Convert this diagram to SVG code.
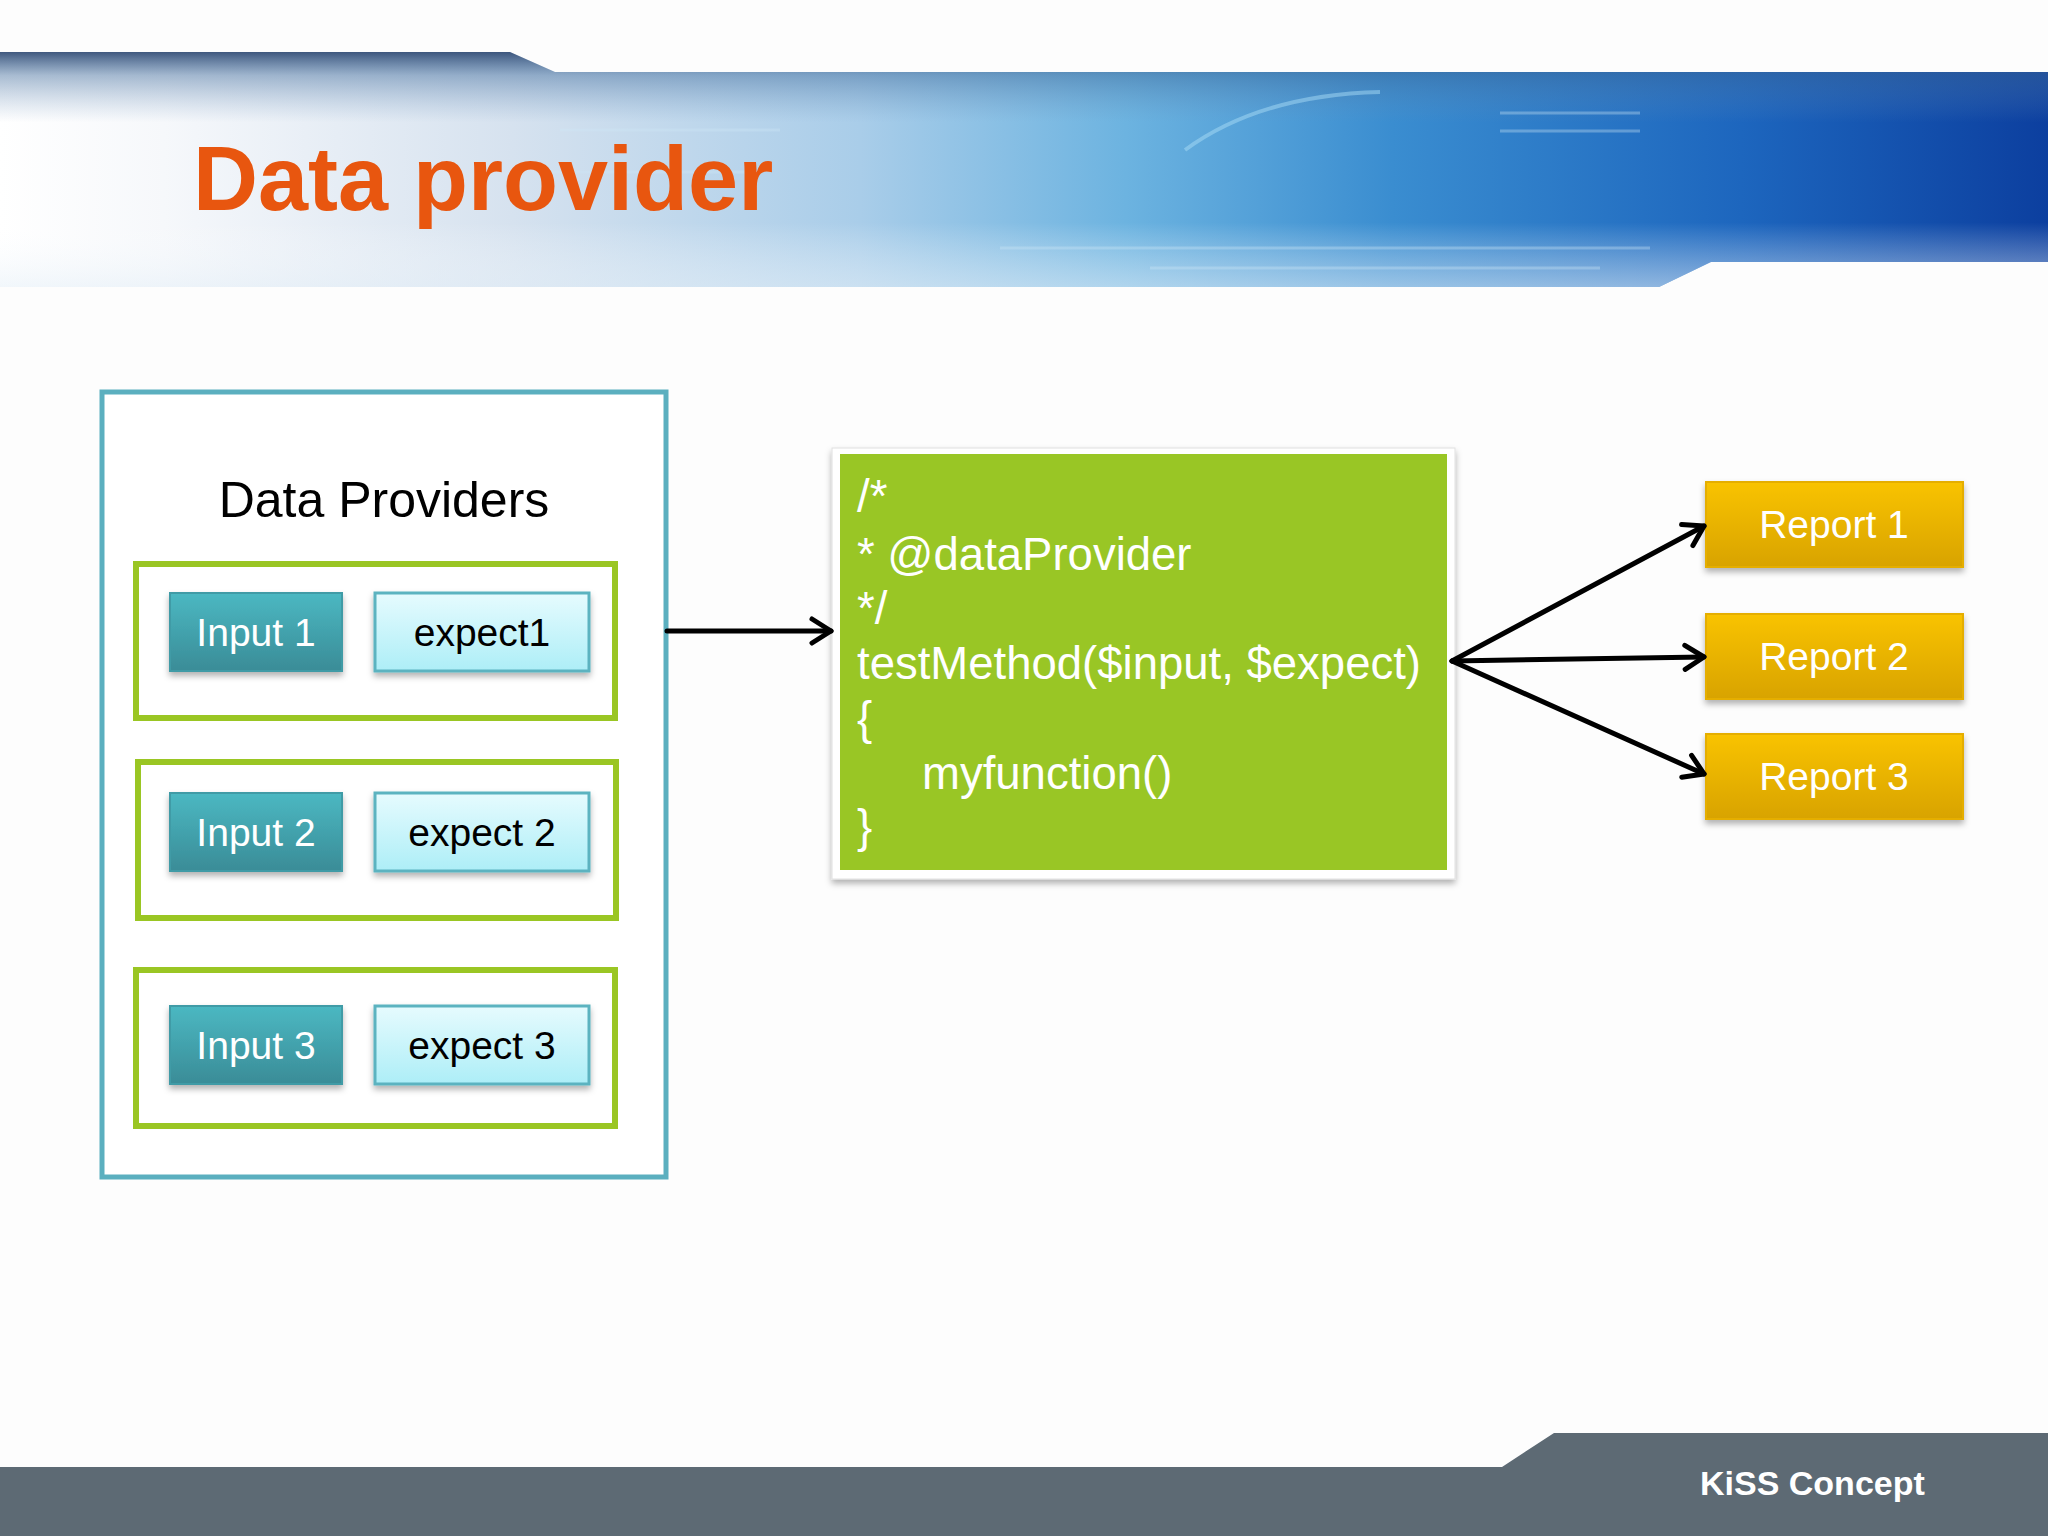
<svg xmlns="http://www.w3.org/2000/svg" width="2048" height="1536" viewBox="0 0 2048 1536">
<defs>
<style>
.t{font-family:"Liberation Sans",Arial,sans-serif}
.in{fill:url(#gIn);stroke:#3F9BA6;stroke-width:2}
.ex{fill:url(#gEx);stroke:#5BB3C0;stroke-width:3}
.grp{fill:#FFFFFF;stroke:#9AC623;stroke-width:6}
.rep{fill:url(#gRep);stroke:#E5AE00;stroke-width:2}
.lblW{font-family:"Liberation Sans",Arial,sans-serif;font-size:39px;fill:#FFFFFF;text-anchor:middle}
.lblB{font-family:"Liberation Sans",Arial,sans-serif;font-size:39px;fill:#000000;text-anchor:middle}
.code{font-family:"Liberation Sans",Arial,sans-serif;font-size:45.5px;fill:#FFFFFF}
.con{fill:none;stroke:#000;stroke-width:5;stroke-linecap:round}
</style>
<linearGradient id="gBand" x1="0" y1="0" x2="1" y2="0">
<stop offset="0" stop-color="#FFFFFF"/>
<stop offset="0.08" stop-color="#F6F8FB"/>
<stop offset="0.25" stop-color="#D6E2EF"/>
<stop offset="0.42" stop-color="#A9CDE9"/>
<stop offset="0.55" stop-color="#6CB3E0"/>
<stop offset="0.68" stop-color="#3A8DD0"/>
<stop offset="0.85" stop-color="#1D66BE"/>
<stop offset="1" stop-color="#0C3F9F"/>
</linearGradient>
<linearGradient id="gTop" x1="0" y1="52" x2="0" y2="287" gradientUnits="userSpaceOnUse">
<stop offset="0" stop-color="#2B4670" stop-opacity="0.9"/>
<stop offset="0.1" stop-color="#3F6A9A" stop-opacity="0.45"/>
<stop offset="0.3" stop-color="#6C93BD" stop-opacity="0"/>
<stop offset="1" stop-color="#FFFFFF" stop-opacity="0"/>
</linearGradient>
<linearGradient id="gBot" x1="0" y1="72" x2="0" y2="287" gradientUnits="userSpaceOnUse">
<stop offset="0.7" stop-color="#FFFFFF" stop-opacity="0"/>
<stop offset="1" stop-color="#E6F0F8" stop-opacity="0.55"/>
</linearGradient>
<linearGradient id="gIn" x1="0" y1="0" x2="0" y2="1">
<stop offset="0" stop-color="#4BB8C2"/>
<stop offset="1" stop-color="#3A8C97"/>
</linearGradient>
<linearGradient id="gEx" x1="0" y1="0" x2="0" y2="1">
<stop offset="0" stop-color="#E6FBFE"/>
<stop offset="1" stop-color="#ADEEF7"/>
</linearGradient>
<linearGradient id="gRep" x1="0" y1="0" x2="0" y2="1">
<stop offset="0" stop-color="#F9C300"/>
<stop offset="1" stop-color="#D8A300"/>
</linearGradient>
<filter id="sh" x="-10%" y="-10%" width="120%" height="130%">
<feDropShadow dx="0" dy="4" stdDeviation="3" flood-color="#000" flood-opacity="0.3"/>
</filter>
<marker id="arr" viewBox="0 0 26 30" refX="23" refY="15" markerWidth="26" markerHeight="30" orient="auto" markerUnits="userSpaceOnUse" overflow="visible">
<path d="M4,3 L23,15 L4,27" fill="none" stroke="#000" stroke-width="5" stroke-linecap="round" stroke-linejoin="round"/>
</marker>
</defs>

<rect width="2048" height="1536" fill="#FDFDFD"/>

<g id="header">
<path d="M0,52 L510,52 L555,72 L2048,72 L2048,262 L1711,262 L1659,287 L0,287 Z" fill="url(#gBand)"/>
<path d="M0,52 L510,52 L555,72 L2048,72 L2048,262 L1711,262 L1659,287 L0,287 Z" fill="url(#gTop)"/>
<path d="M0,52 L510,52 L555,72 L2048,72 L2048,262 L1711,262 L1659,287 L0,287 Z" fill="url(#gBot)"/>
<path d="M1185,150 Q1260,95 1380,92" fill="none" stroke="#A8DCF5" stroke-width="4" opacity="0.5"/>
<g stroke="#CFE8F7" stroke-width="3" opacity="0.35">
<line x1="560" y1="130" x2="780" y2="130"/>
<line x1="540" y1="172" x2="760" y2="172"/>
<line x1="1500" y1="113" x2="1640" y2="113"/>
<line x1="1500" y1="131" x2="1640" y2="131"/>
<line x1="1000" y1="248" x2="1650" y2="248"/>
<line x1="1150" y1="268" x2="1600" y2="268"/>
</g>
<text class="t" x="193" y="210" font-size="90" font-weight="bold" fill="#E8560F">Data provider</text>
</g>

<g id="footer">
<path d="M0,1467 L1502,1467 L1554,1433 L2048,1433 L2048,1536 L0,1536 Z" fill="#5D6A74"/>
<text class="t" x="1700" y="1495" font-size="34" font-weight="bold" fill="#FFFFFF">KiSS Concept</text>
</g>

<g id="data-providers">
<rect x="102" y="392" width="564" height="785" fill="#FFFFFF" stroke="#5BAFBF" stroke-width="5"/>
<text class="t" x="384" y="517" font-size="50" text-anchor="middle" fill="#000">Data Providers</text>
</g>

<g id="row1">
<rect class="grp" x="136" y="564" width="479" height="154"/>
<g id="input1"><rect class="in" x="170" y="593" width="172" height="78" filter="url(#sh)"/><text class="lblW" x="256" y="646">Input 1</text></g>
<g id="expect1"><rect class="ex" x="375" y="593" width="214" height="78" filter="url(#sh)"/><text class="lblB" x="482" y="646">expect1</text></g>
</g>

<g id="row2">
<rect class="grp" x="138" y="762" width="478" height="156"/>
<g id="input2"><rect class="in" x="170" y="793" width="172" height="78" filter="url(#sh)"/><text class="lblW" x="256" y="846">Input 2</text></g>
<g id="expect2"><rect class="ex" x="375" y="793" width="214" height="78" filter="url(#sh)"/><text class="lblB" x="482" y="846">expect 2</text></g>
</g>

<g id="row3">
<rect class="grp" x="136" y="970" width="479" height="156"/>
<g id="input3"><rect class="in" x="170" y="1006" width="172" height="78" filter="url(#sh)"/><text class="lblW" x="256" y="1059">Input 3</text></g>
<g id="expect3"><rect class="ex" x="375" y="1006" width="214" height="78" filter="url(#sh)"/><text class="lblB" x="482" y="1059">expect 3</text></g>
</g>

<g id="test-method">
<rect x="832" y="448" width="623" height="431" fill="#FFFFFF" stroke="#E0E0E0" stroke-width="1" filter="url(#sh)"/>
<rect x="840" y="454" width="607" height="416" fill="#99C625"/>
<text class="code" x="857" y="512">/*</text>
<text class="code" x="857" y="570">* @dataProvider</text>
<text class="code" x="857" y="624">*/</text>
<text class="code" x="857" y="679">testMethod($input, $expect)</text>
<text class="code" x="857" y="734">{</text>
<text class="code" x="922" y="789">myfunction()</text>
<text class="code" x="857" y="842">}</text>
</g>

<g id="report1"><rect class="rep" x="1706" y="482" width="257" height="85" filter="url(#sh)"/><text class="lblW" x="1834" y="538">Report 1</text></g>
<g id="report2"><rect class="rep" x="1706" y="614" width="257" height="85" filter="url(#sh)"/><text class="lblW" x="1834" y="670">Report 2</text></g>
<g id="report3"><rect class="rep" x="1706" y="734" width="257" height="85" filter="url(#sh)"/><text class="lblW" x="1834" y="790">Report 3</text></g>

<g id="connectors">
<line class="con" x1="667" y1="631" x2="831" y2="631" marker-end="url(#arr)"/>
<line class="con" x1="1452" y1="661" x2="1704" y2="526" marker-end="url(#arr)"/>
<line class="con" x1="1452" y1="661" x2="1704" y2="657" marker-end="url(#arr)"/>
<line class="con" x1="1452" y1="661" x2="1704" y2="774" marker-end="url(#arr)"/>
</g>
</svg>
